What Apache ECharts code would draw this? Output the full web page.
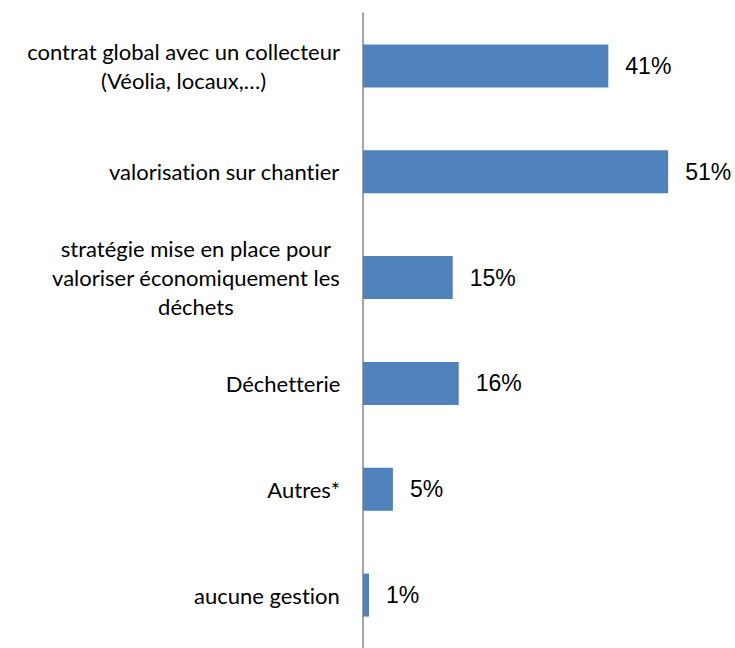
<!DOCTYPE html>
<html>
<head>
<meta charset="utf-8">
<script src="https://cdn.jsdelivr.net/npm/echarts@6/dist/echarts.min.js"></script>
<style>
  html, body { margin: 0; padding: 0; background: #fff; }
  /* Excel-like text: no ti / tt ligatures */
  #chart text { font-variant-ligatures: none; font-feature-settings: "liga" 0, "clig" 0; }
</style>
</head>
<body>
<div id="chart" style="width: 735px; height: 648px"></div>
<script>
// categories, top to bottom
const categories = [
  "contrat global avec un collecteur\n(Véolia, locaux,…)",
  "valorisation sur chantier",
  "stratégie mise en place pour\nvaloriser économiquement les\ndéchets",
  "Déchetterie",
  "Autres*",
  "aucune gestion"
];
// percentages
const values = [41, 51, 15, 16, 5, 1];

const chart = echarts.init(document.getElementById("chart"), null, { renderer: "svg" });

const option = {
  backgroundColor: "#ffffff",
  animation: false,
  grid: {
    left: 363,
    top: 13,
    width: 359,
    height: 640,
    containLabel: false,
  },
  xAxis: {
    type: "value",
    min: 0,
    max: 60,
    show: false,
  },
  yAxis: {
    type: "category",
    inverse: true,
    data: categories,
    axisLine: {
      lineStyle: { color: "#868686", width: 1.5 },
    },
    axisTick: {
      length: 7,
      lineStyle: { color: "#868686", width: 1.5 },
    },
    axisLabel: {
      margin: 23,
      align: "right",
      formatter: (v) => "{c|" + v + "}",
      rich: {
        c: {
          align: "center",
          fontFamily: "Lato",
          fontSize: 22,
          lineHeight: 29,
          color: "#000",
        },
      },
    },
  },
  series: [
    {
      type: "bar",
      data: values,
      barWidth: 43,
      itemStyle: { color: "#4F81BD" },
      label: {
        show: true,
        position: "right",
        distance: 17,
        formatter: "{c}%",
        fontFamily: "Liberation Sans",
        fontSize: 23,
        color: "#000",
      },
    },
  ],
};

chart.setOption(option);
</script>
</body>
</html>
